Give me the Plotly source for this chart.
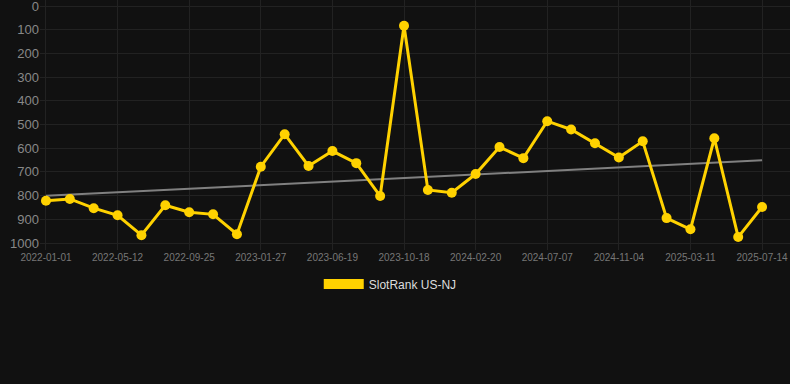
import plotly.graph_objects as go

tick_labels = ["2022-01-01", "2022-05-12", "2022-09-25", "2023-01-27", "2023-06-19",
               "2023-10-18", "2024-02-20", "2024-07-07", "2024-11-04", "2025-03-11", "2025-07-14"]
ranks = [822, 814, 853, 883, 967, 841, 870, 879, 963, 678, 541, 675, 612, 663, 802, 83,
         776, 788, 709, 595, 642, 486, 521, 579, 639, 571, 895, 942, 558, 975, 848]
point_index = list(range(len(ranks)))
tick_index = point_index[::3]
trend_x = [0, 30]
trend_y = [801, 651]

series_name = "SlotRank US-NJ"
yellow = "#FFD200"

fig = go.Figure()
fig.add_trace(go.Scatter(x=trend_x, y=trend_y, mode="lines",
                         line=dict(color="#808080", width=2), showlegend=False, hoverinfo="skip"))
fig.add_trace(go.Scatter(x=point_index, y=ranks, mode="lines+markers",
                         line=dict(color=yellow, width=3), marker=dict(color=yellow, size=10),
                         showlegend=False))
fig.add_trace(go.Scatter(x=[None], y=[None], mode="lines", name=series_name,
                         line=dict(color=yellow, width=12)))

fig.update_layout(
    width=790, height=384,
    paper_bgcolor="#111111", plot_bgcolor="#111111",
    margin=dict(l=40, r=0, t=0, b=134),
    font=dict(family="Liberation Sans, Arial, sans-serif"),
    showlegend=True,
    legend=dict(orientation="h", x=0.467, xanchor="center", y=-0.078, yanchor="top",
                itemwidth=40,
                font=dict(color="#dddddd", size=12), bgcolor="rgba(0,0,0,0)"),
    xaxis=dict(range=[-0.25, 31.17], tickvals=tick_index, ticktext=tick_labels,
               showgrid=True, gridcolor="#222222", gridwidth=1, zeroline=False,
               tickfont=dict(color="#777777", size=10), ticks="", showline=False,
               ticklabeloverflow="allow"),
    yaxis=dict(range=[1029.5, -25.3], tickvals=[0, 100, 200, 300, 400, 500, 600, 700, 800, 900, 1000],
               showgrid=True, gridcolor="#222222", gridwidth=1, zeroline=False,
               tickfont=dict(color="#888888", size=13), ticks="", showline=False,
               ticklabeloverflow="allow"),
)

fig.write_html("out.html", config={"displayModeBar": False},
               post_script="document.body.style.margin='0';document.body.style.background='#111111';")
